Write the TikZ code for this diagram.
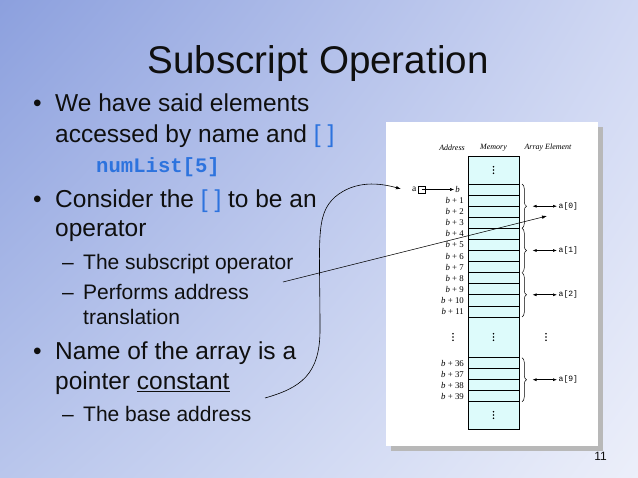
\documentclass[tikz,border=0pt]{standalone}
\usepackage{fontspec}
\setmainfont{Liberation Sans}
\newfontfamily\serifx{Liberation Serif}
\newfontfamily\monox{Liberation Mono}
\usetikzlibrary{arrows.meta,decorations.pathreplacing,shadings}
\definecolor{bgA}{RGB}{140,160,222}
\definecolor{bgB}{RGB}{208,216,243}
\definecolor{bgC}{RGB}{185,198,236}
\definecolor{bgD}{RGB}{236,239,250}
\definecolor{memfill}{RGB}{221,251,251}
\definecolor{hiblue}{RGB}{45,115,222}
\definecolor{txt}{RGB}{15,15,15}
\newcommand\bplus[1]{\textit{b} + #1}
\begin{document}
\begin{tikzpicture}[x=1pt,y=-1pt,
  lvl1/.style={anchor=base west,inner sep=0pt,text=txt,font=\fontsize{24.5}{29}\selectfont},
  lvl2/.style={anchor=base west,inner sep=0pt,text=txt,font=\fontsize{21}{25}\selectfont},
  cell/.style={draw=black,line width=0.6pt,fill=memfill,minimum width=51pt,inner sep=0pt,outer sep=0pt},
  addr/.style={anchor=east,inner sep=0pt,font=\serifx\fontsize{8.8}{9}\selectfont},
  hdr/.style={inner sep=0pt,font=\serifx\itshape\fontsize{8}{9}\selectfont},
  elem/.style={anchor=west,inner sep=0pt,font=\monox\fontsize{8}{9}\selectfont},
  arr/.style={-{Latex[length=5pt,width=3.5pt]},line width=0.6pt},
  darr/.style={{Latex[length=4pt,width=3pt]}-{Latex[length=4pt,width=3pt]},line width=0.6pt},
  brc/.style={decorate,decoration={brace,amplitude=4.5pt},line width=0.5pt}]

\useasboundingbox (0,0) rectangle (638,478);
\shade[upper left=bgA, upper right=bgB, lower left=bgC, lower right=bgD] (0,0) rectangle (638,478);

% title
\node[anchor=base,inner sep=0pt,text=txt,font=\fontsize{38.6}{44}\selectfont] (title) at (318,74) {Subscript Operation};

% bullet text
\node[lvl1] (u1) at (33,112) {•};
\node[lvl1] (l1) at (55,112) {We have said elements};
\node[lvl1] (l2) at (55,143) {accessed by name and \textcolor{hiblue}{[ ]}};
\node[anchor=base west,inner sep=0pt,text=hiblue,font=\monox\bfseries\fontsize{20.6}{24}\selectfont] (l3) at (96,173) {numList[5]};
\node[lvl1] (u2) at (33,208) {•};
\node[lvl1] (l4) at (55,208) {Consider the \textcolor{hiblue}{[ ]} to be an};
\node[lvl1] (l5) at (55,237) {operator};
\node[lvl2] (m1) at (62,270) {–};
\node[lvl2] (l6) at (83,270) {The subscript operator};
\node[lvl2] (m2) at (62,300) {–};
\node[lvl2] (l7) at (83,300) {Performs address};
\node[lvl2] (l8) at (83,325) {translation};
\node[lvl1] (u3) at (33,360) {•};
\node[lvl1] (l9) at (55,360) {Name of the array is a};
\node[lvl1] (l10) at (55,390) {pointer \underline{constant}};
\node[lvl2] (m3) at (62,422) {–};
\node[lvl2] (l11) at (83,422) {The base address};

% page number
\node[anchor=base east,inner sep=0pt,text=txt,font=\fontsize{12}{12}\selectfont] (pg) at (607,461) {11};

% figure frame
\fill[black!28] (391,127) rectangle (603,451);
\fill[white] (386,122) rectangle (598,446);

% headers
\node[hdr] (hA) at (452,148) {Address};
\node[hdr] (hM) at (493.5,148) {Memory};
\node[hdr] (hE) at (548,148) {Array Element};

% memory cells
\node[cell,minimum height=28pt] (top) at (493.5,170) {};
\foreach \i in {0,...,11}{
  \node[cell,minimum height=11.08pt] (r\i) at (493.5,{184+11.08*(\i+0.5)}) {};
}
\node[cell,minimum height=40.7pt] (mid) at (493.5,337.35) {};
\foreach \j in {0,...,3}{
  \node[cell,minimum height=11pt] (s\j) at (493.5,{357.7+11*(\j+0.5)}) {};
}
\node[cell,minimum height=27.3pt] (bot) at (493.5,415.35) {};

% address labels
\node[addr] (bl) at (460,189.5) {\textit{b}};
\foreach \i in {1,...,11}{
  \node[addr] (al\i) at (464,{184+11.08*(\i+0.5)}) {\bplus{\i}};
}
\foreach \j/\n in {0/36,1/37,2/38,3/39}{
  \node[addr] (as\j) at (464,{357.7+11*(\j+0.5)}) {\bplus{\n}};
}

% vertical dots
\foreach \x/\y in {493.5/170, 493.5/337, 493.5/415, 453/337, 546/337}{
  \foreach \k in {-3.2,0,3.2} \fill (\x,\y+\k) circle (0.85pt);
}

% a pointer
\node[draw,line width=0.5pt,minimum size=7pt,inner sep=0pt] (abox) at (421.5,189.5) {};
\node[anchor=east,inner sep=0pt,font=\serifx\fontsize{9.5}{10}\selectfont] (alab) at (416.5,189.5) {a};
\draw[arr,line width=0.5pt,-{Latex[length=4pt,width=3pt]}] (abox.center) -- ([xshift=-1pt]bl.west);

% braces
\draw[brc] ([xshift=3pt]r0.north east) -- ([xshift=3pt]r3.south east);
\draw[brc] ([xshift=3pt]r4.north east) -- ([xshift=3pt]r7.south east);
\draw[brc] ([xshift=3pt]r8.north east) -- ([xshift=3pt]r11.south east);
\draw[brc] ([xshift=3pt]s0.north east) -- ([xshift=3pt]s3.south east);

% element labels
\node[elem] (e0) at (558.5,206.2) {a[0]};
\node[elem] (e1) at (558.5,250.5) {a[1]};
\node[elem] (e2) at (558.5,294.8) {a[2]};
\node[elem] (e9) at (558.5,379.7) {a[9]};
\coordinate (t0) at (532.5,206.2);
\coordinate (t1) at (532.5,250.5);
\coordinate (t2) at (532.5,294.8);
\coordinate (t9) at (532.5,379.7);
\draw[darr] (t0) -- ([xshift=-1.5pt]e0.west);
\draw[darr] (t1) -- ([xshift=-1.5pt]e1.west);
\draw[darr] (t2) -- ([xshift=-1.5pt]e2.west);
\draw[darr] (t9) -- ([xshift=-1.5pt]e9.west);

% slide annotations
\coordinate (c1s) at (283,282);
\coordinate (c1e) at (547,216);
\draw[arr] (c1s) -- (c1e);
\coordinate (c2s) at (265,398);
\coordinate (c2e) at (401,189);
\draw[arr] (c2s) .. controls (300,388) and (320,375) .. (320,330)
  .. controls (320,240) and (315,215) .. (335,197)
  .. controls (355,180) and (380,183) .. (c2e);
\end{tikzpicture}
\end{document}
